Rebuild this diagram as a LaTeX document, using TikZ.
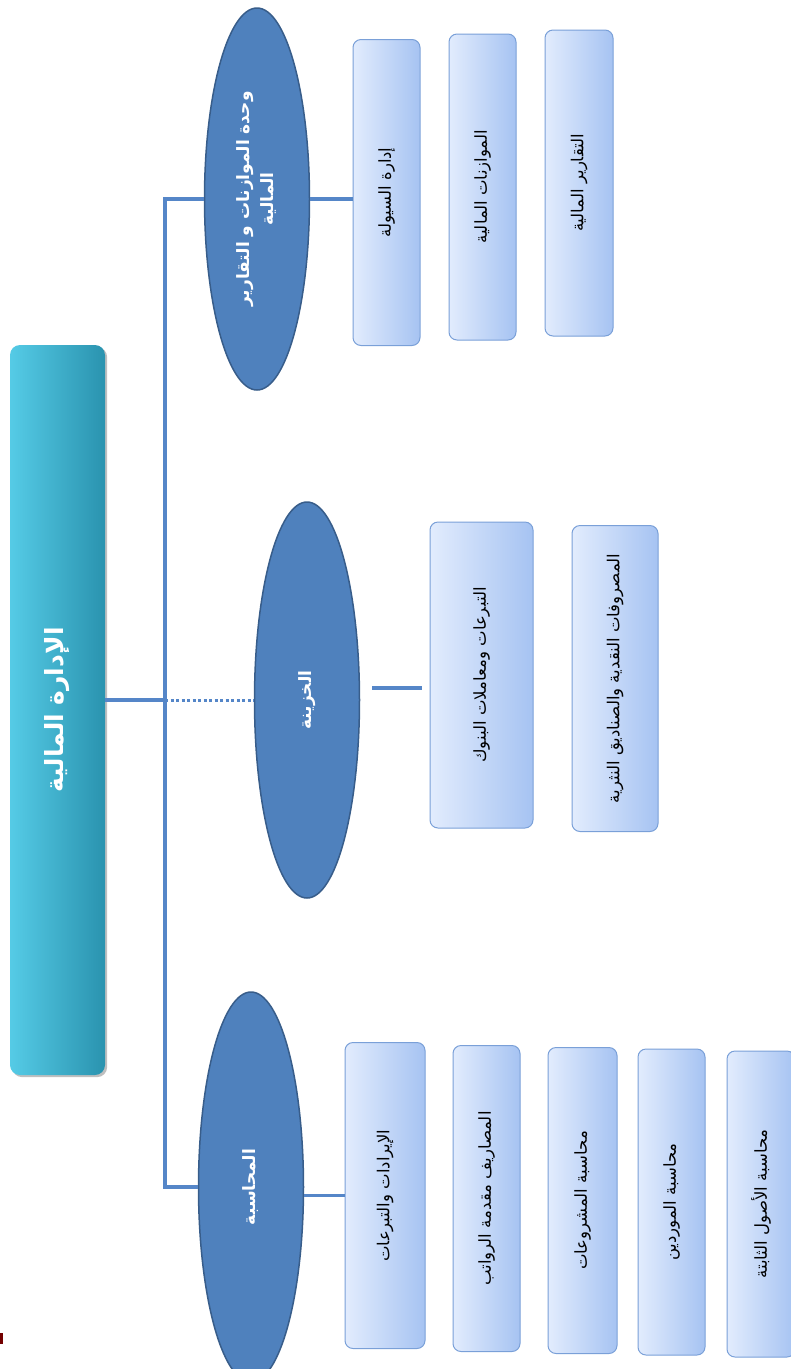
\documentclass[tikz,border=0pt]{standalone}
\usepackage{fontspec}
\usepackage{graphicx}
\newfontfamily\arabicfont[Script=Arabic]{DejaVu Sans}
\TeXXeTstate=1
\usetikzlibrary{shapes.geometric,shadows}
\definecolor{headleft}{HTML}{55CBE6}
\definecolor{headright}{HTML}{2A93AF}
\definecolor{unitblue}{HTML}{4F81BD}
\definecolor{unitborder}{HTML}{385D8A}
\definecolor{taskleft}{HTML}{E2ECFD}
\definecolor{taskright}{HTML}{A6C3F2}
\definecolor{taskborder}{HTML}{7AA0D8}
\definecolor{linkblue}{HTML}{5586C8}
\newcommand{\vtext}[1]{\rotatebox{90}{\arabicfont\beginR #1\endR}}
\begin{document}
\begin{tikzpicture}[x=1pt,y=-1pt,
	link/.style={draw=linkblue,line width=3.5pt},
	unit/.style={ellipse,draw=unitborder,line width=1.5pt,fill=unitblue,text=white,inner sep=0pt,
		minimum width=105pt,font=\bfseries\fontsize{17}{21}\selectfont},
	task/.style={rectangle,rounded corners=8pt,draw=taskborder,line width=1pt,left color=taskleft,
		right color=taskright,inner sep=0pt,minimum height=306pt,font=\fontsize{16.5}{19}\selectfont}]
	\useasboundingbox (0,0) rectangle (791,1369);
	\node[rounded corners=10pt,left color=headleft,right color=headright,drop shadow,minimum width=95pt,
		minimum height=730pt,text=white,font=\bfseries\fontsize{25}{30}\selectfont] (head) at (57.5,710) {\vtext{الإدارة المالية}};
	\coordinate (trunk) at (165,700);
	% units
	\node[unit,minimum height=382pt] (budget) at (257,199) {\rotatebox{90}{\arabicfont\begin{tabular}{@{}c@{}}\beginR وحدة الموازنات و التقارير\endR\\[3pt] \beginR المالية\endR\end{tabular}}};
	\node[unit,minimum height=396pt] (treasury) at (307,700) {\vtext{الخزينة}};
	\node[unit,minimum height=390pt] (accounting) at (251,1187) {\vtext{المحاسبة}};
	% tasks
	\node[task,minimum width=67pt] (liquidity) at (386.5,192.5) {\vtext{إدارة السيولة}};
	\node[task,minimum width=67pt] (budgets) at (482.5,187) {\vtext{الموازنات المالية}};
	\node[task,minimum width=68pt] (reports) at (579,183) {\vtext{التقارير المالية}};
	\node[task,minimum width=103pt] (donations) at (481.5,675) {\vtext{التبرعات ومعاملات البنوك}};
	\node[task,minimum width=86pt] (petty) at (615,678.5) {\vtext{المصروفات النقدية والصناديق النثرية}};
	\node[task,minimum width=80pt] (revenue) at (385,1195.5) {\vtext{الإيرادات والتبرعات}};
	\node[task,minimum width=67pt] (advances) at (486.5,1198.5) {\vtext{المصاريف مقدمة الرواتب}};
	\node[task,minimum width=69pt] (projects) at (582.5,1200.5) {\vtext{محاسبة المشروعات}};
	\node[task,minimum width=67pt] (suppliers) at (671.5,1202) {\vtext{محاسبة الموردين}};
	\node[task,minimum width=68pt] (assets) at (761,1204) {\vtext{محاسبة الأصول الثابتة}};
	% connectors
	\draw[link] (head.east |- trunk) -- (trunk);
	\draw[link] (budget.west) -| (trunk) |- (accounting.west);
	\draw[link,dash pattern=on 3pt off 2.5pt,line width=3pt] (trunk) -- (treasury.west);
	\draw[link] (budget.east) -- (budget.east -| liquidity.west);
	\draw[link,shorten <=12pt,shorten >=8pt] ([yshift=12pt]treasury.east) -- ([yshift=12pt]treasury.east -| donations.west);
	\draw[link] (revenue.west -| accounting.east) -- (revenue.west);
	\fill[red!45!black] (0,1333) rectangle (3,1344);
\end{tikzpicture}
\end{document}
